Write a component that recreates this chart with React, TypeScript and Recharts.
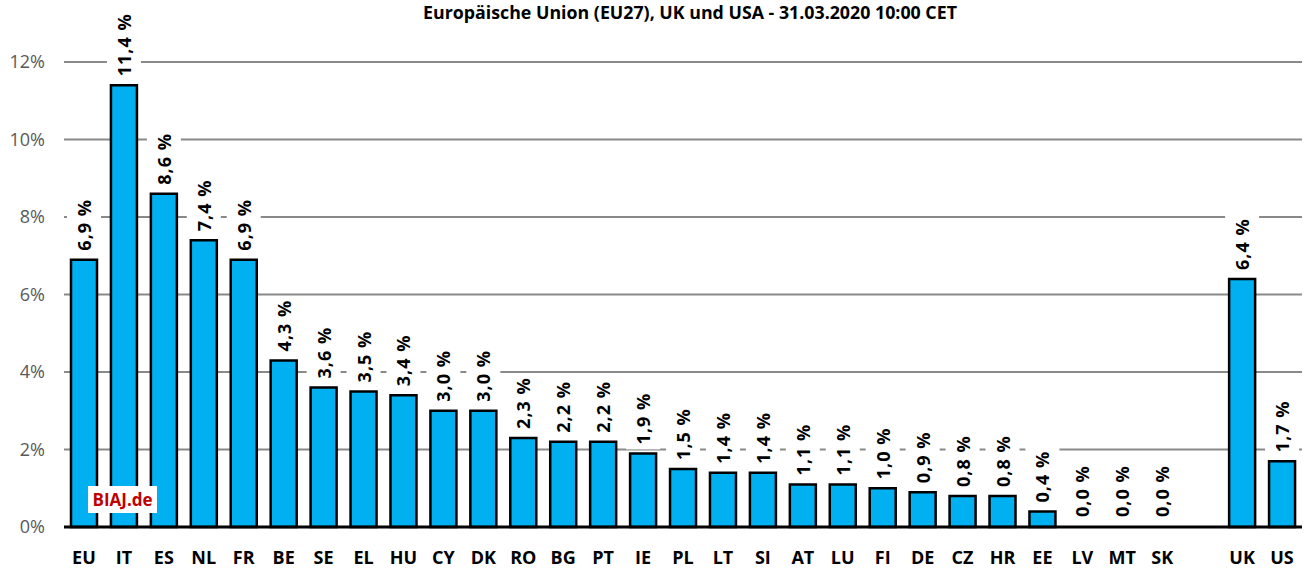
import React from "react";
import { BarChart, Bar, XAxis, YAxis, CartesianGrid, LabelList, Rectangle } from "recharts";

const countries = ["EU", "IT", "ES", "NL", "FR", "BE", "SE", "EL", "HU", "CY", "DK", "RO", "BG", "PT", "IE", "PL", "LT", "SI", "AT", "LU", "FI", "DE", "CZ", "HR", "EE", "LV", "MT", "SK", "", "UK", "US"];
const shares = [6.9, 11.4, 8.6, 7.4, 6.9, 4.3, 3.6, 3.5, 3.4, 3.0, 3.0, 2.3, 2.2, 2.2, 1.9, 1.5, 1.4, 1.4, 1.1, 1.1, 1.0, 0.9, 0.8, 0.8, 0.4, 0, 0, 0, null, 6.4, 1.7];
const yTicks = [0, 2, 4, 6, 8, 10, 12];

const title = "Europäische Union (EU27), UK und USA - 31.03.2020 10:00 CET";
const FONT = "'Open Sans', sans-serif";

const data = countries.map((c, i) => ({ name: c, value: shares[i] }));

const fmt = (v) => v.toFixed(1).replace(".", ",") + " %";

// rough width of the label text, to size the white box behind it
const LS = 1;
const textLen = (s, fs) => {
  let w = 0;
  for (const ch of s) {
    if (ch === ",") w += 0.27 * fs;
    else if (ch === " ") w += 0.26 * fs;
    else if (ch === "%") w += 0.86 * fs;
    else w += 0.6 * fs;
    w += LS;
  }
  return w;
};

const ValueLabel = (props) => {
  const { x, y, width, height, value } = props;
  if (value === null || value === undefined) return null;
  const cx = x + width / 2;
  const fs = 18;
  const txt = fmt(value);
  const len = textLen(txt, fs);
  const top = height < 0 ? y + height : y;
  const start = top - 9;
  return (
    <g>
      <rect x={cx - 17} y={start - len - 3} width={34} height={len + 8} fill="#fff" />
      <text
        x={cx}
        y={start}
        transform={`rotate(-90, ${cx}, ${start})`}
        textAnchor="start"
        dominantBaseline="central"
        fontFamily={FONT}
        fontWeight="bold"
        fontSize={fs}
        letterSpacing={LS}
        fill="#000"
      >
        {txt}
      </text>
    </g>
  );
};

// zero values get a 1px bar only so their labels are placed; don't draw it
const BarShape = (props) => {
  if (!props.payload || !props.payload.value) return <g />;
  return <Rectangle {...props} />;
};

export default function App() {
  return (
    <div style={{ position: "absolute", left: 0, top: 0, width: 1309, height: 570, background: "#fff" }}>
      <div
        style={{
          position: "absolute",
          left: 0,
          top: 0,
          width: 1380,
          textAlign: "center",
          fontFamily: FONT,
          fontWeight: "bold",
          fontSize: 17.8,
          color: "#000",
        }}
      >
        {title}
      </div>
      <BarChart width={1309} height={570} data={data} margin={{ top: 62, right: 7, left: 0, bottom: 0 }}>
        <CartesianGrid vertical={false} stroke="#898989" strokeWidth={2} />
        <YAxis
          domain={[0, 12]}
          ticks={yTicks}
          width={64}
          axisLine={false}
          tickLine={false}
          tickSize={0}
          tickMargin={19}
          tickFormatter={(v) => v + "%"}
          tick={{ fill: "#595959", fontSize: 18, fontFamily: FONT }}
        />
        <XAxis
          dataKey="name"
          height={43}
          interval={0}
          tickLine={false}
          tickSize={0}
          tickMargin={24}
          axisLine={{ stroke: "#000", strokeWidth: 3 }}
          tick={{ fill: "#000", fontSize: 18, fontWeight: "bold", fontFamily: FONT }}
        />
        <Bar
          dataKey="value"
          fill="#00B0F0"
          stroke="#000"
          strokeWidth={2.5}
          barSize={26}
          minPointSize={1}
          shape={<BarShape />}
          isAnimationActive={false}
        >
          <LabelList dataKey="value" content={<ValueLabel />} />
        </Bar>
      </BarChart>
      <div
        style={{
          position: "absolute",
          left: 88,
          top: 486,
          width: 69,
          height: 27,
          background: "#fff",
          color: "#C00000",
          fontFamily: FONT,
          fontWeight: "bold",
          fontSize: 17,
          lineHeight: "27px",
          textAlign: "center",
        }}
      >
        BIAJ.de
      </div>
    </div>
  );
}
